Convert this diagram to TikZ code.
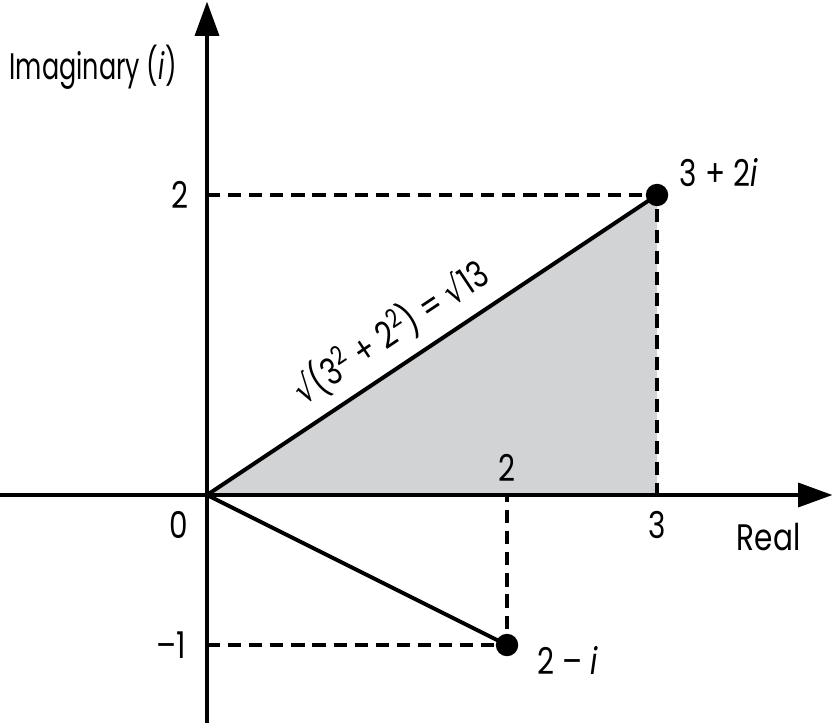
\documentclass[tikz,border=0pt]{standalone}
\usepackage{fontspec}
\setmainfont{Poppins}[FakeStretch=0.8]
\newfontfamily\narrowfont{Poppins}[FakeStretch=0.69]
\newfontfamily\symfont{DejaVu Sans}[FakeStretch=0.8]
\usetikzlibrary{arrows.meta}
\definecolor{areagray}{RGB}{209,211,212}

\begin{document}
\begin{tikzpicture}[x=2cm,y=2cm,font=\fontsize{14}{16}\selectfont,
  axis/.style={line width=1.5pt,-{Triangle[length=13pt,width=9pt]}},
  guide/.style={line width=1.4pt,dash pattern=on 5pt off 3pt},
  vec/.style={line width=1.5pt},
  dot/.style={circle,fill=black,inner sep=0pt,minimum size=8.5pt}]
  \useasboundingbox (-1.38,-1.52) rectangle (4.18,3.3);

  \coordinate (O) at (0,0);
  \coordinate (xA) at (3,0);
  \coordinate (xB) at (2,0);
  \coordinate (yA) at (0,2);
  \coordinate (yB) at (0,-1);
  \coordinate (xmin) at (-1.38,0);
  \coordinate (xmax) at (4.17,0);
  \coordinate (ymin) at (0,-1.52);
  \coordinate (ymax) at (0,3.29);

  \fill[areagray] (O) -- (3,2) -- (xA) -- cycle;
  \node[dot] (pA) at (3,2) {};
  \node[dot] (pB) at (2,-1) {};

  \draw[guide] (yA) -- (pA.center) -- (xA);
  \draw[guide] (yB) -- (pB.center) -- (xB);
  \draw[axis] (xmin) -- (xmax);
  \draw[axis] (ymin) -- (ymax);
  \draw[vec] (O) -- (pA.center)
    node[pos=0.45,sloped,above=1pt] (len) {{\symfont √}(3\textsuperscript{2} + 2\textsuperscript{2}) = {\symfont √}13};
  \draw[vec] (O) -- (pB.center);

  \node[anchor=east,font=\fontsize{14}{16}\narrowfont] (ylab) at (-0.14,2.85) {Imaginary (\textit{i})};
  \node[anchor=west] (xlab) at (3.47,-0.28) {Real};
  \node (y2) at (-0.18,2) {2};
  \node (ym1) at (-0.24,-1) {--1};
  \node (x0) at (-0.19,-0.2) {0};
  \node (x2) at (2,0.18) {2};
  \node (x3) at (3,-0.2) {3};
  \node[anchor=west] (lblA) at (3.09,2.15) {3 + 2\textit{i}};
  \node[anchor=west] (lblB) at (2.14,-1.1) {2 -- \textit{i}};
\end{tikzpicture}
\end{document}
